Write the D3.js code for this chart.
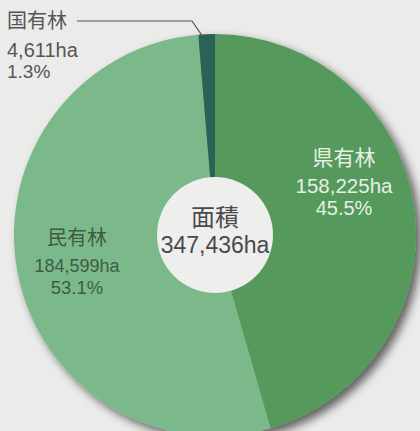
<!DOCTYPE html>
<html>
<head>
<meta charset="utf-8">
<script src="https://cdn.jsdelivr.net/npm/d3@7"></script>
<style>
html,body{margin:0;padding:0;background:#ebebea;}
svg{display:block;}
text{font-family:"Liberation Sans",Arial,"Noto Sans CJK JP",sans-serif;}
.cjk{font-family:"Noto Sans CJK JP",sans-serif;}
</style>
</head>
<body>
<script>
const categories = ["県有林", "民有林", "国有林"];
const areas = [158225, 184599, 4611];
const areaLabels = ["158,225ha", "184,599ha", "4,611ha"];
const percents = ["45.5%", "53.1%", "1.3%"];
const totalTitle = "面積";
const totalLabel = "347,436ha";

const W = 420, H = 431;
const cx = 215, cy = 235, R = 201, r0 = 58;
const colors = ["#549a5c", "#7bb98a", "#2c6455"];

const svg = d3.select("body").append("svg").attr("width", W).attr("height", H);
const defs = svg.append("defs");
const f = defs.append("filter").attr("id", "sh").attr("x", "-20%").attr("y", "-20%").attr("width", "140%").attr("height", "140%");
f.append("feGaussianBlur").attr("in", "SourceAlpha").attr("stdDeviation", 5).attr("result", "b");
f.append("feOffset").attr("in", "b").attr("dx", 5).attr("dy", 5).attr("result", "o");
f.append("feComponentTransfer").attr("in", "o").attr("result", "c")
  .append("feFuncA").attr("type", "linear").attr("slope", 0.6);
const m = f.append("feMerge");
m.append("feMergeNode").attr("in", "c");
m.append("feMergeNode").attr("in", "SourceGraphic");

const pie = d3.pie().sort(null).startAngle(0).endAngle(2 * Math.PI);
const arcs = pie(areas);
const arc = d3.arc().innerRadius(0).outerRadius(R);

const g = svg.append("g").attr("transform", `translate(${cx},${cy})`);
const pg = g.append("g").attr("filter", "url(#sh)");
pg.selectAll("path").data(arcs).join("path")
  .attr("d", arc).attr("fill", (d, i) => colors[i]);
g.append("circle").attr("r", r0).attr("fill", "#eeeeec");

// center text
g.append("text").attr("class", "cjk").attr("text-anchor", "middle").attr("y", -9)
  .attr("font-size", 24).attr("fill", "#4a4a4e").text(totalTitle);
g.append("text").attr("text-anchor", "middle").attr("y", 18)
  .attr("font-size", 23).attr("fill", "#4a4a4e").text(totalLabel);

// labels
const labelPos = [
  {x: 344, y: [165, 193, 215], anchor: "middle", fill: "#e6f0e4", fs: [21, 20.5, 20]},
  {x: 77, y: [245, 272, 294], anchor: "middle", fill: "#3d5c48", fs: [20, 18, 18.5]},
  {x: 7, y: [28, 57, 78], anchor: "start", fill: "#555559", fs: [20, 20, 19]}
];
categories.forEach((c, i) => {
  const p = labelPos[i];
  const t = svg.append("g");
  t.append("text").attr("class", "cjk").attr("x", p.x).attr("y", p.y[0]).attr("text-anchor", p.anchor)
    .attr("font-size", p.fs[0]).attr("fill", p.fill).text(c);
  t.append("text").attr("x", p.x).attr("y", p.y[1]).attr("text-anchor", p.anchor)
    .attr("font-size", p.fs[1]).attr("fill", p.fill).text(areaLabels[i]);
  t.append("text").attr("x", p.x).attr("y", p.y[2]).attr("text-anchor", p.anchor)
    .attr("font-size", p.fs[2]).attr("fill", p.fill).text(percents[i]);
});

// leader line for 国有林 (to the slice's outer edge, near its start side)
const a = arcs[2];
const ang = a.startAngle + (a.endAngle - a.startAngle) * 0.25;
const ex = cx + Math.sin(ang) * (R - 2), ey = cy - Math.cos(ang) * (R - 2);
svg.append("path")
  .attr("d", `M77,21 H192 L${ex},${ey}`)
  .attr("fill", "none").attr("stroke", "#555559").attr("stroke-width", 1.2);
</script>
</body>
</html>
